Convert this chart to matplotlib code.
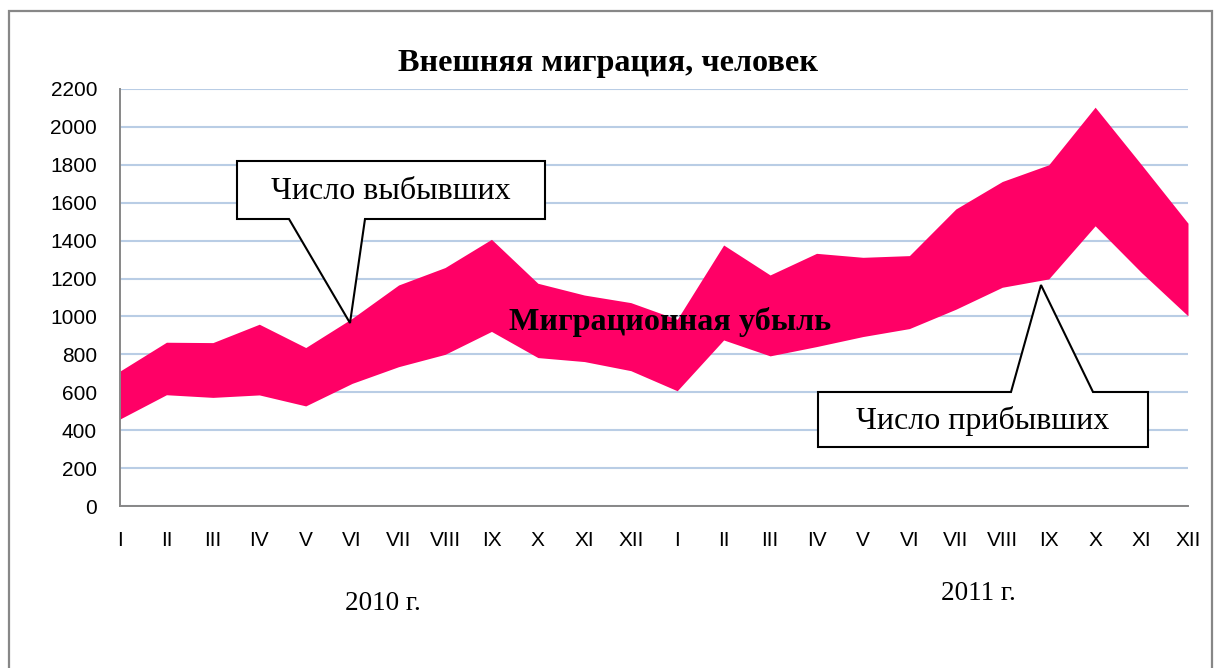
import matplotlib
matplotlib.use("Agg")
import matplotlib.pyplot as plt
from matplotlib.patches import Polygon, Rectangle

months = ["I", "II", "III", "IV", "V", "VI", "VII", "VIII", "IX", "X", "XI", "XII",
          "I", "II", "III", "IV", "V", "VI", "VII", "VIII", "IX", "X", "XI", "XII"]
departed = [712, 864, 862, 959, 836, 990, 1166, 1258, 1407, 1175, 1113, 1073,
            985, 1377, 1219, 1333, 1312, 1321, 1567, 1712, 1800, 2104, 1800, 1492]
arrived = [459, 587, 573, 586, 528, 647, 735, 800, 921, 783, 762, 714,
           608, 876, 792, 841, 894, 936, 1038, 1154, 1198, 1478, 1231, 1003]
yticks = [0, 200, 400, 600, 800, 1000, 1200, 1400, 1600, 1800, 2000, 2200]

W, H = 1220, 668
fig = plt.figure(figsize=(W / 100, H / 100), dpi=100)
fig.patch.set_facecolor("white")

def fx(x):
    return x / W

def fy(y):
    return 1 - y / H

ax = fig.add_axes([fx(120), fy(506), fx(1188) - fx(120), fy(89) - fy(506)])
x = list(range(len(months)))
ax.fill_between(x, arrived, departed, color="#FF0066", linewidth=0, zorder=2)
ax.set_xlim(0, len(months) - 1)
ax.set_ylim(0, 2200)
ax.set_yticks(yticks)
ax.set_yticklabels([str(v) for v in yticks], fontsize=15, family="Liberation Sans")
ax.set_xticks(x)
ax.set_xticklabels(months, fontsize=15, family="Liberation Sans")
ax.tick_params(axis="y", length=0, pad=16.5)
ax.tick_params(axis="x", length=0, pad=18)
ax.grid(axis="y", color="#B9CDE5", linewidth=1.5, zorder=1)
ax.set_axisbelow(True)
for s in ["top", "right"]:
    ax.spines[s].set_visible(False)
for s in ["left", "bottom"]:
    ax.spines[s].set_color("#878787")
    ax.spines[s].set_linewidth(1.4)
    ax.spines[s].set_zorder(3)

# outer border
fig.patches.append(Rectangle((fx(9), fy(672)), fx(1212) - fx(9), fy(11) - fy(672),
                             transform=fig.transFigure, fill=False,
                             edgecolor="#878787", linewidth=1.6))

fig.text(fx(608), fy(64), "Внешняя миграция, человек", ha="center", va="center",
         fontsize=23.2, fontweight="bold", family="Liberation Serif")

fig.text(fx(670), fy(322), "Миграционная убыль", ha="center", va="center",
         fontsize=23.2, fontweight="bold", family="Liberation Serif", zorder=5)

fig.text(fx(383), fy(603), "2010 г.", ha="center", va="center",
         fontsize=19.5, family="Liberation Serif")
fig.text(fx(978), fy(593), "2011 г.", ha="center", va="center",
         fontsize=19.5, family="Liberation Serif")

def callout(pts, text, tx, ty):
    poly = Polygon([(fx(px), fy(py)) for px, py in pts], closed=True,
                   transform=fig.transFigure, facecolor="white",
                   edgecolor="black", linewidth=1.5, zorder=6)
    fig.patches.append(poly)
    fig.text(fx(tx), fy(ty), text, ha="center", va="center", fontsize=23,
             family="Liberation Serif", zorder=7)

callout([(237, 161), (545, 161), (545, 219), (365, 219), (350, 323),
         (289, 219), (237, 219)], "Число выбывших", 391, 191)
callout([(818, 392), (1011, 392), (1041, 285), (1093, 392), (1148, 392),
         (1148, 447), (818, 447)], "Число прибывших", 983, 421)

fig.savefig("out.png", dpi=100)
